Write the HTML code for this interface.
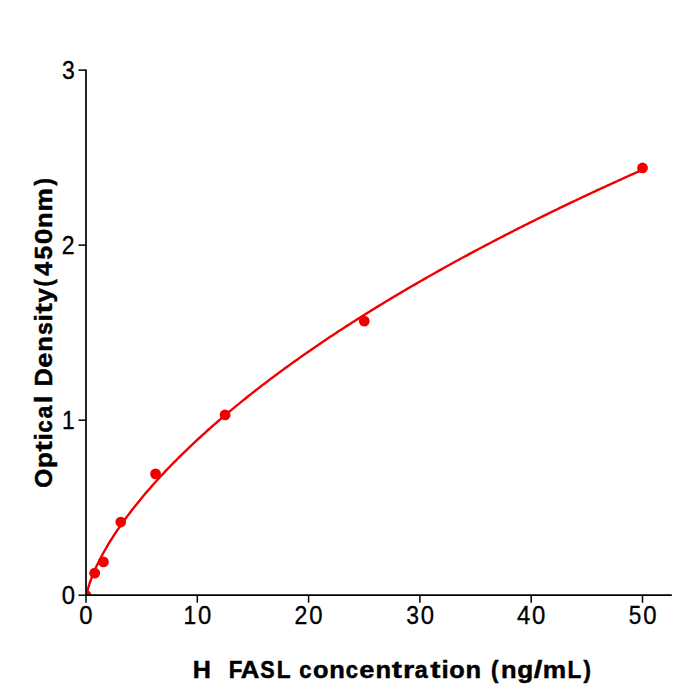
<!DOCTYPE html>
<html><head><meta charset="utf-8"><title>FASL ELISA standard curve</title><style>
html,body{margin:0;padding:0;background:#fff;width:700px;height:700px;overflow:hidden}
svg{display:block}
text{font-family:"Liberation Sans",sans-serif;fill:#000}
</style></head><body>
<svg width="700" height="700" viewBox="0 0 700 700">
<rect width="700" height="700" fill="#fff"/>
<defs><clipPath id="ax"><rect x="86.0" y="70.11" width="585.80" height="525.09"/></clipPath></defs>
<g clip-path="url(#ax)">
<polyline fill="none" stroke="#f00000" stroke-width="2.4" stroke-linejoin="round" points="86.00,599.28 86.14,597.57 86.28,596.52 86.42,595.63 86.56,594.84 86.70,594.10 86.85,593.41 86.99,592.75 87.13,592.12 87.27,591.52 87.41,590.94 87.55,590.37 87.69,589.83 87.83,589.29 87.97,588.77 88.11,588.26 88.25,587.76 88.40,587.27 88.54,586.79 88.68,586.32 88.82,585.86 88.96,585.40 89.10,584.95 89.24,584.51 89.38,584.07 89.52,583.64 89.66,583.21 89.80,582.79 89.94,582.38 90.09,581.97 90.23,581.56 90.37,581.16 90.51,580.76 90.65,580.37 90.79,579.98 90.93,579.59 91.07,579.21 91.21,578.83 91.35,578.45 91.49,578.08 91.64,577.71 91.78,577.34 91.92,576.98 92.06,576.62 92.20,576.26 92.34,575.90 92.48,575.55 92.62,575.20 92.76,574.85 92.90,574.50 93.04,574.16 93.19,573.82 93.33,573.48 93.47,573.14 93.61,572.80 93.75,572.47 93.89,572.14 94.03,571.81 94.17,571.48 94.31,571.16 94.45,570.83 94.59,570.51 94.73,570.19 94.88,569.87 95.02,569.55 95.16,569.24 95.30,568.92 95.44,568.61 95.58,568.30 95.72,567.99 95.86,567.68 96.00,567.38 96.14,567.07 96.28,566.77 96.43,566.47 96.57,566.16 96.71,565.86 96.85,565.57 96.99,565.27 97.13,564.97 98.95,561.25 100.78,557.69 102.60,554.28 104.43,550.99 106.25,547.81 108.07,544.72 109.90,541.72 111.72,538.80 113.55,535.95 115.37,533.16 117.19,530.43 119.02,527.76 120.84,525.14 122.67,522.56 124.49,520.03 126.31,517.55 128.14,515.10 129.96,512.69 131.79,510.31 133.61,507.97 135.43,505.66 137.26,503.38 139.08,501.13 140.91,498.91 142.73,496.71 144.55,494.54 146.38,492.40 148.20,490.28 150.03,488.18 151.85,486.10 153.67,484.05 155.50,482.01 157.32,480.00 159.15,478.00 160.97,476.02 162.79,474.06 164.62,472.12 166.44,470.20 168.27,468.29 170.09,466.40 171.91,464.52 173.74,462.66 175.56,460.81 177.39,458.98 179.21,457.16 181.03,455.36 182.86,453.57 184.68,451.79 186.51,450.03 188.33,448.27 190.15,446.53 191.98,444.80 193.80,443.09 195.62,441.38 197.45,439.69 199.27,438.00 201.10,436.33 202.92,434.67 204.74,433.02 206.57,431.38 208.39,429.75 210.22,428.12 212.04,426.51 213.86,424.91 215.69,423.31 217.51,421.73 219.34,420.15 221.16,418.59 222.98,417.03 224.81,415.48 226.63,413.94 228.46,412.40 230.28,410.88 232.10,409.36 233.93,407.85 235.75,406.35 237.58,404.85 239.40,403.36 241.22,401.88 243.05,400.41 244.87,398.95 246.70,397.49 248.52,396.04 250.34,394.59 252.17,393.15 253.99,391.72 255.82,390.30 257.64,388.88 259.46,387.47 261.29,386.06 263.11,384.66 264.94,383.27 266.76,381.88 268.58,380.50 270.41,379.12 272.23,377.75 274.06,376.39 275.88,375.03 277.70,373.68 279.53,372.33 281.35,370.99 283.18,369.65 285.00,368.32 286.82,367.00 288.65,365.68 290.47,364.36 292.30,363.05 294.12,361.74 295.94,360.44 297.77,359.15 299.59,357.86 301.42,356.57 303.24,355.29 305.06,354.02 306.89,352.75 308.71,351.48 310.54,350.22 312.36,348.96 314.18,347.71 316.01,346.46 317.83,345.21 319.66,343.97 321.48,342.74 323.30,341.51 325.13,340.28 326.95,339.06 328.78,337.84 330.60,336.62 332.42,335.41 334.25,334.21 336.07,333.00 337.90,331.81 339.72,330.61 341.54,329.42 343.37,328.23 345.19,327.05 347.02,325.87 348.84,324.70 350.66,323.53 352.49,322.36 354.31,321.19 356.14,320.03 357.96,318.88 359.78,317.72 361.61,316.57 363.43,315.43 365.26,314.28 367.08,313.14 368.90,312.01 370.73,310.87 372.55,309.74 374.37,308.62 376.20,307.50 378.02,306.38 379.85,305.26 381.67,304.15 383.49,303.04 385.32,301.93 387.14,300.83 388.97,299.73 390.79,298.63 392.61,297.54 394.44,296.45 396.26,295.36 398.09,294.27 399.91,293.19 401.73,292.11 403.56,291.04 405.38,289.96 407.21,288.89 409.03,287.83 410.85,286.76 412.68,285.70 414.50,284.64 416.33,283.59 418.15,282.53 419.97,281.48 421.80,280.44 423.62,279.39 425.45,278.35 427.27,277.31 429.09,276.27 430.92,275.24 432.74,274.21 434.57,273.18 436.39,272.15 438.21,271.13 440.04,270.11 441.86,269.09 443.69,268.07 445.51,267.06 447.33,266.05 449.16,265.04 450.98,264.04 452.81,263.03 454.63,262.03 456.45,261.03 458.28,260.04 460.10,259.04 461.93,258.05 463.75,257.06 465.57,256.08 467.40,255.09 469.22,254.11 471.05,253.13 472.87,252.15 474.69,251.18 476.52,250.20 478.34,249.23 480.17,248.27 481.99,247.30 483.81,246.34 485.64,245.37 487.46,244.41 489.29,243.46 491.11,242.50 492.93,241.55 494.76,240.60 496.58,239.65 498.41,238.70 500.23,237.76 502.05,236.82 503.88,235.88 505.70,234.94 507.53,234.00 509.35,233.07 511.17,232.14 513.00,231.21 514.82,230.28 516.65,229.35 518.47,228.43 520.29,227.51 522.12,226.59 523.94,225.67 525.77,224.75 527.59,223.84 529.41,222.92 531.24,222.01 533.06,221.11 534.89,220.20 536.71,219.29 538.53,218.39 540.36,217.49 542.18,216.59 544.01,215.69 545.83,214.80 547.65,213.90 549.48,213.01 551.30,212.12 553.12,211.24 554.95,210.35 556.77,209.46 558.60,208.58 560.42,207.70 562.24,206.82 564.07,205.94 565.89,205.07 567.72,204.19 569.54,203.32 571.36,202.45 573.19,201.58 575.01,200.71 576.84,199.85 578.66,198.99 580.48,198.12 582.31,197.26 584.13,196.40 585.96,195.55 587.78,194.69 589.60,193.84 591.43,192.99 593.25,192.13 595.08,191.29 596.90,190.44 598.72,189.59 600.55,188.75 602.37,187.91 604.20,187.06 606.02,186.23 607.84,185.39 609.67,184.55 611.49,183.72 613.32,182.88 615.14,182.05 616.96,181.22 618.79,180.39 620.61,179.57 622.44,178.74 624.26,177.92 626.08,177.09 627.91,176.27 629.73,175.45 631.56,174.63 633.38,173.82 635.20,173.00 637.03,172.19 638.85,171.38 640.68,170.56 642.50,169.76"/>
<g fill="#f00000">
<circle cx="86.00" cy="595.20" r="5.4"/>
<circle cx="94.70" cy="573.15" r="5.4"/>
<circle cx="103.39" cy="561.94" r="5.4"/>
<circle cx="120.78" cy="522.04" r="5.4"/>
<circle cx="155.56" cy="473.90" r="5.4"/>
<circle cx="225.12" cy="414.92" r="5.4"/>
<circle cx="364.25" cy="321.10" r="5.4"/>
<circle cx="642.50" cy="167.95" r="5.4"/>
</g>
</g>
<g stroke="#000" stroke-width="1.7" fill="none">
<line x1="86.0" y1="69.6" x2="86.0" y2="596.05"/>
<line x1="85.15" y1="595.2" x2="671.8" y2="595.2"/>
</g>
<g stroke="#000" stroke-width="1.5" fill="none"><line x1="78.50" y1="595.20" x2="86.0" y2="595.20"/><line x1="78.50" y1="420.17" x2="86.0" y2="420.17"/><line x1="78.50" y1="245.14" x2="86.0" y2="245.14"/><line x1="78.50" y1="70.11" x2="86.0" y2="70.11"/><line x1="86.00" y1="595.2" x2="86.00" y2="602.70"/><line x1="197.30" y1="595.2" x2="197.30" y2="602.70"/><line x1="308.60" y1="595.2" x2="308.60" y2="602.70"/><line x1="419.90" y1="595.2" x2="419.90" y2="602.70"/><line x1="531.20" y1="595.2" x2="531.20" y2="602.70"/><line x1="642.50" y1="595.2" x2="642.50" y2="602.70"/></g>
<text transform="translate(68.38,604.00) scale(0.957,1)" x="-6.95" font-size="25.0" font-weight="normal"  stroke="#000" stroke-width="0.313">0</text>
<text transform="translate(68.59,428.97) scale(0.911,1)" x="-7.29" font-size="25.0" font-weight="normal"  stroke="#000" stroke-width="0.329">1</text>
<text transform="translate(68.08,253.94) scale(0.921,1)" x="-6.95" font-size="25.0" font-weight="normal"  stroke="#000" stroke-width="0.326">2</text>
<text transform="translate(68.34,78.91) scale(0.918,1)" x="-6.88" font-size="25.0" font-weight="normal"  stroke="#000" stroke-width="0.327">3</text>
<text transform="translate(85.99,623.80) scale(0.957,1)" x="-6.95" font-size="25.0" font-weight="normal"  stroke="#000" stroke-width="0.313">0</text>
<text transform="translate(190.09,623.80) scale(0.911,1)" x="-7.29" font-size="25.0" font-weight="normal"  stroke="#000" stroke-width="0.329">1</text><text transform="translate(204.71,623.80) scale(0.957,1)" x="-6.95" font-size="25.0" font-weight="normal"  stroke="#000" stroke-width="0.313">0</text>
<text transform="translate(300.88,623.80) scale(0.921,1)" x="-6.95" font-size="25.0" font-weight="normal"  stroke="#000" stroke-width="0.326">2</text><text transform="translate(316.01,623.80) scale(0.957,1)" x="-6.95" font-size="25.0" font-weight="normal"  stroke="#000" stroke-width="0.313">0</text>
<text transform="translate(412.44,623.80) scale(0.918,1)" x="-6.88" font-size="25.0" font-weight="normal"  stroke="#000" stroke-width="0.327">3</text><text transform="translate(427.31,623.80) scale(0.957,1)" x="-6.95" font-size="25.0" font-weight="normal"  stroke="#000" stroke-width="0.313">0</text>
<text transform="translate(523.70,623.80) scale(0.959,1)" x="-6.87" font-size="25.0" font-weight="normal"  stroke="#000" stroke-width="0.313">4</text><text transform="translate(538.61,623.80) scale(0.957,1)" x="-6.95" font-size="25.0" font-weight="normal"  stroke="#000" stroke-width="0.313">0</text>
<text transform="translate(634.97,623.80) scale(0.902,1)" x="-6.93" font-size="25.0" font-weight="normal"  stroke="#000" stroke-width="0.333">5</text><text transform="translate(649.91,623.80) scale(0.957,1)" x="-6.95" font-size="25.0" font-weight="normal"  stroke="#000" stroke-width="0.313">0</text>
<text transform="translate(201.76,678.10) scale(1.015,1)" x="-8.91" font-size="24.7" font-weight="bold"  stroke="#000" stroke-width="0.493">H</text><text transform="translate(235.81,678.10) scale(0.904,1)" x="-7.92" font-size="24.7" font-weight="bold"  stroke="#000" stroke-width="0.553">F</text><text transform="translate(250.03,678.10) scale(1.045,1)" x="-8.90" font-size="24.7" font-weight="bold"  stroke="#000" stroke-width="0.478">A</text><text transform="translate(267.44,678.10) scale(0.873,1)" x="-8.11" font-size="24.7" font-weight="bold"  stroke="#000" stroke-width="0.573">S</text><text transform="translate(284.03,678.10) scale(0.914,1)" x="-7.99" font-size="24.7" font-weight="bold"  stroke="#000" stroke-width="0.547">L</text><text transform="translate(305.46,678.10) scale(0.893,1)" x="-6.99" font-size="24.7" font-weight="bold"  stroke="#000" stroke-width="0.560">c</text><text transform="translate(320.66,678.10) scale(1.027,1)" x="-7.54" font-size="24.7" font-weight="bold"  stroke="#000" stroke-width="0.487">o</text><text transform="translate(337.04,678.10) scale(1.033,1)" x="-7.59" font-size="24.7" font-weight="bold"  stroke="#000" stroke-width="0.484">n</text><text transform="translate(351.91,678.10) scale(0.893,1)" x="-6.99" font-size="24.7" font-weight="bold"  stroke="#000" stroke-width="0.560">c</text><text transform="translate(366.95,678.10) scale(1.106,1)" x="-6.93" font-size="24.7" font-weight="bold"  stroke="#000" stroke-width="0.452">e</text><text transform="translate(383.29,678.10) scale(1.033,1)" x="-7.59" font-size="24.7" font-weight="bold"  stroke="#000" stroke-width="0.484">n</text><text transform="translate(396.98,678.10) scale(1.250,1)" x="-4.11" font-size="24.7" font-weight="bold"  stroke="#000" stroke-width="0.400">t</text><text transform="translate(409.36,678.10) scale(1.179,1)" x="-5.43" font-size="24.7" font-weight="bold"  stroke="#000" stroke-width="0.424">r</text><text transform="translate(421.62,678.10) scale(0.942,1)" x="-7.31" font-size="24.7" font-weight="bold"  stroke="#000" stroke-width="0.531">a</text><text transform="translate(435.36,678.10) scale(1.250,1)" x="-4.11" font-size="24.7" font-weight="bold"  stroke="#000" stroke-width="0.400">t</text><text transform="translate(445.05,678.10) scale(1.055,1)" x="-3.42" font-size="24.7" font-weight="bold"  stroke="#000" stroke-width="0.474">i</text><text transform="translate(457.05,678.10) scale(1.027,1)" x="-7.54" font-size="24.7" font-weight="bold"  stroke="#000" stroke-width="0.487">o</text><text transform="translate(473.43,678.10) scale(1.033,1)" x="-7.59" font-size="24.7" font-weight="bold"  stroke="#000" stroke-width="0.484">n</text><text transform="translate(495.18,678.10) scale(0.902,1)" x="-4.72" font-size="24.7" font-weight="bold"  stroke="#000" stroke-width="0.554">(</text><text transform="translate(508.81,678.10) scale(1.033,1)" x="-7.59" font-size="24.7" font-weight="bold"  stroke="#000" stroke-width="0.484">n</text><text transform="translate(524.94,678.10) scale(1.062,1)" x="-7.22" font-size="24.7" font-weight="bold"  stroke="#000" stroke-width="0.471">g</text><text transform="translate(538.00,678.10) scale(1.250,1)" x="-3.43" font-size="24.7" font-weight="bold"  stroke="#000" stroke-width="0.400">/</text><text transform="translate(554.45,678.10) scale(1.065,1)" x="-11.03" font-size="24.7" font-weight="bold"  stroke="#000" stroke-width="0.470">m</text><text transform="translate(574.74,678.10) scale(0.914,1)" x="-7.99" font-size="24.7" font-weight="bold"  stroke="#000" stroke-width="0.547">L</text><text transform="translate(586.68,678.10) scale(0.902,1)" x="-3.51" font-size="24.7" font-weight="bold"  stroke="#000" stroke-width="0.554">)</text>
<g transform="translate(51.6,488.3) rotate(-90)"><text transform="translate(9.88,0.00) scale(0.987,1)" x="-9.59" font-size="24.7" font-weight="bold"  stroke="#000" stroke-width="0.507">O</text><text transform="translate(28.54,0.00) scale(1.056,1)" x="-7.85" font-size="24.7" font-weight="bold"  stroke="#000" stroke-width="0.473">p</text><text transform="translate(41.85,0.00) scale(1.250,1)" x="-4.11" font-size="24.7" font-weight="bold"  stroke="#000" stroke-width="0.400">t</text><text transform="translate(51.51,0.00) scale(1.052,1)" x="-3.42" font-size="24.7" font-weight="bold"  stroke="#000" stroke-width="0.475">i</text><text transform="translate(62.10,0.00) scale(0.890,1)" x="-6.99" font-size="24.7" font-weight="bold"  stroke="#000" stroke-width="0.562">c</text><text transform="translate(76.70,0.00) scale(0.939,1)" x="-7.31" font-size="24.7" font-weight="bold"  stroke="#000" stroke-width="0.533">a</text><text transform="translate(88.95,0.00) scale(1.052,1)" x="-3.42" font-size="24.7" font-weight="bold"  stroke="#000" stroke-width="0.475">l</text><text transform="translate(111.14,0.00) scale(1.020,1)" x="-9.23" font-size="24.7" font-weight="bold"  stroke="#000" stroke-width="0.490">D</text><text transform="translate(128.15,0.00) scale(1.102,1)" x="-6.93" font-size="24.7" font-weight="bold"  stroke="#000" stroke-width="0.454">e</text><text transform="translate(144.44,0.00) scale(1.030,1)" x="-7.59" font-size="24.7" font-weight="bold"  stroke="#000" stroke-width="0.486">n</text><text transform="translate(159.62,0.00) scale(0.931,1)" x="-6.80" font-size="24.7" font-weight="bold"  stroke="#000" stroke-width="0.537">s</text><text transform="translate(170.47,0.00) scale(1.052,1)" x="-3.42" font-size="24.7" font-weight="bold"  stroke="#000" stroke-width="0.475">i</text><text transform="translate(179.90,0.00) scale(1.250,1)" x="-4.11" font-size="24.7" font-weight="bold"  stroke="#000" stroke-width="0.400">t</text><text transform="translate(193.08,0.00) scale(1.040,1)" x="-6.90" font-size="24.7" font-weight="bold"  stroke="#000" stroke-width="0.481">y</text><text transform="translate(206.11,0.00) scale(0.899,1)" x="-4.72" font-size="24.7" font-weight="bold"  stroke="#000" stroke-width="0.556">(</text><text transform="translate(219.43,0.00) scale(1.025,1)" x="-6.99" font-size="24.7" font-weight="bold"  stroke="#000" stroke-width="0.488">4</text><text transform="translate(235.70,0.00) scale(0.998,1)" x="-6.90" font-size="24.7" font-weight="bold"  stroke="#000" stroke-width="0.501">5</text><text transform="translate(251.79,0.00) scale(1.145,1)" x="-6.85" font-size="24.7" font-weight="bold"  stroke="#000" stroke-width="0.437">0</text><text transform="translate(268.23,0.00) scale(1.030,1)" x="-7.59" font-size="24.7" font-weight="bold"  stroke="#000" stroke-width="0.486">n</text><text transform="translate(288.59,0.00) scale(1.061,1)" x="-11.03" font-size="24.7" font-weight="bold"  stroke="#000" stroke-width="0.471">m</text><text transform="translate(305.91,0.00) scale(0.899,1)" x="-3.51" font-size="24.7" font-weight="bold"  stroke="#000" stroke-width="0.556">)</text></g>
</svg>
</body></html>
